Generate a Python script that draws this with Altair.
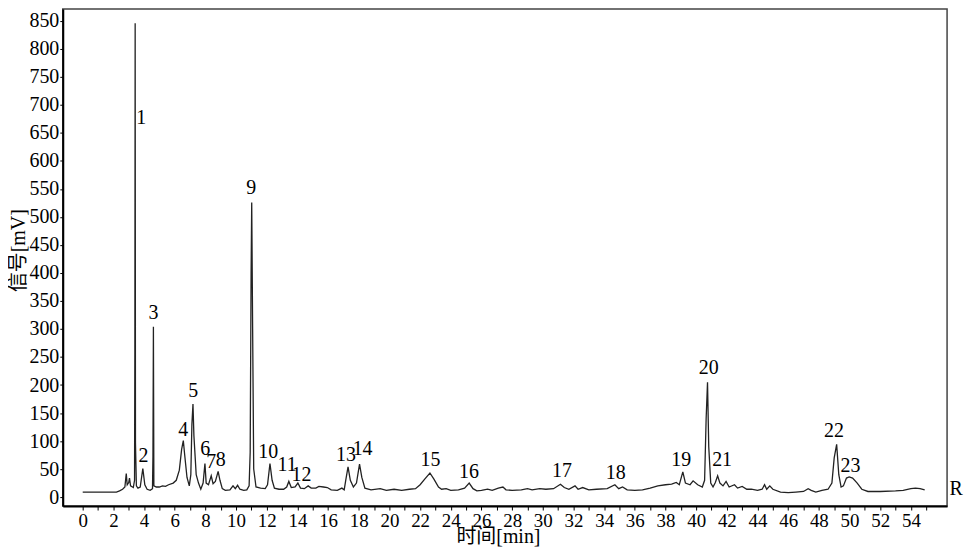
import altair as alt
import pandas as pd

# ---- chromatogram trace (time in min, signal in mV) ----
time_min = [
    0.0, 2.2, 2.4, 2.6, 2.75, 2.84, 2.9, 3.0, 3.05, 3.12, 3.3, 3.38, 3.40, 3.42, 3.44, 3.5,
    3.6, 3.75, 3.92, 4.05, 4.2, 4.4, 4.55, 4.58, 4.61, 4.64, 4.8, 5.0, 5.2, 5.4, 5.6, 5.9,
    6.1, 6.3, 6.45, 6.56, 6.65, 6.8, 6.95, 7.05, 7.12, 7.19, 7.25, 7.4, 7.55, 7.7, 7.85,
    7.97, 8.05, 8.2, 8.38, 8.5, 8.65, 8.83, 8.95, 9.1, 9.3, 9.6, 9.8, 9.95, 10.1, 10.25,
    10.5, 10.7, 10.85, 10.92, 10.98, 11.02, 11.08, 11.15, 11.3, 11.6, 11.9, 12.05, 12.21,
    12.35, 12.5, 12.8, 13.1, 13.3, 13.44, 13.6, 13.85, 14.03, 14.2, 14.45, 14.7, 14.9,
    15.2, 15.4, 15.7, 15.95, 16.2, 16.6, 16.9, 17.05, 17.15, 17.3, 17.45, 17.65, 17.85,
    18.05, 18.2, 18.4, 18.8, 19.4, 19.8, 20.3, 20.8, 21.3, 21.7, 22.0, 22.3, 22.64, 22.9,
    23.2, 23.4, 23.7, 24.0, 24.5, 24.9, 25.2, 25.45, 25.7, 26.0, 26.4, 26.7, 27.1, 27.4,
    27.6, 28.0, 28.6, 29.0, 29.3, 29.8, 30.2, 30.7, 31.15, 31.4, 31.7, 32.1, 32.3, 32.6,
    33.0, 33.5, 34.2, 34.7, 34.95, 35.2, 35.5, 36.0, 36.5, 37.0, 37.5, 38.0, 38.4, 38.7,
    38.9, 39.13, 39.3, 39.6, 39.8, 40.1, 40.4, 40.55, 40.65, 40.74, 40.82, 40.95, 41.1,
    41.25, 41.4, 41.55, 41.75, 41.95, 42.15, 42.5, 42.7, 43.0, 43.3, 43.6, 44.0, 44.3,
    44.46, 44.6, 44.8, 45.0, 45.5, 46.0, 46.5, 47.0, 47.3, 47.5, 47.8, 48.2, 48.6, 48.85,
    49.0, 49.16, 49.3, 49.45, 49.6, 49.8, 49.98, 50.2, 50.5, 50.8, 51.2, 52.0, 53.0, 53.5,
    54.0, 54.3, 54.6, 54.9,
]
signal_mv = [
    9, 9, 11, 14, 18, 42, 22, 26, 34, 20, 17, 30, 257, 846, 97, 20,
    16, 18, 51, 22, 14, 12, 15, 73, 304, 20, 18, 18, 20, 19, 22, 25,
    30, 48, 85, 101, 75, 35, 20, 40, 130, 166, 110, 40, 25, 14, 25,
    60, 25, 22, 38, 24, 28, 46, 30, 15, 12, 13, 20, 15, 21, 14,
    12, 13, 20, 80, 400, 526, 300, 50, 18, 16, 15, 22, 60,
    30, 16, 14, 14, 18, 28, 17, 18, 25, 16, 15, 20, 16,
    16, 19, 18, 17, 13, 12, 16, 13, 30, 54, 30, 18, 25,
    59, 35, 16, 13, 15, 12, 14, 12, 14, 15, 22, 32, 43, 32,
    18, 14, 15, 12, 13, 16, 25, 15, 11, 12, 14, 12, 16, 18,
    13, 12, 13, 15, 13, 15, 14, 15, 23, 17, 14, 20, 14, 17,
    13, 14, 15, 22, 15, 18, 13, 12, 13, 16, 20, 22, 23, 26,
    22, 45, 25, 22, 29, 22, 18, 30, 140, 205, 90, 25, 18,
    26, 38, 25, 20, 28, 18, 22, 16, 19, 14, 14, 12, 14,
    22, 14, 20, 14, 9, 8, 9, 10, 15, 12, 9, 12, 14, 25,
    70, 94, 40, 18, 20, 34, 36, 34, 25, 14, 10, 10, 11, 12,
    15, 16, 15, 13,
]

# ---- peak numbers and where they are written ----
peak_names = [str(i) for i in range(1, 24)]
peak_t = [3.81, 3.96, 4.61, 6.56, 7.21, 7.99, 8.38, 9.0, 10.99, 12.1, 13.33, 14.26,
          17.16, 18.25, 22.68, 25.19, 31.25, 34.76, 39.03, 40.82, 41.69, 48.98, 50.06]
peak_v = [677, 73, 328, 119, 189, 85, 62, 66, 551, 81, 57, 39,
          75, 85, 67, 44, 47, 43, 66, 230, 66, 118, 56]

side_names = ["R"]
side_t = [56.95]
side_v = [15]

x_ticks = [i * 0.5 for i in range(111)]
y_ticks = list(range(0, 851, 50))

trace = pd.DataFrame({"t": time_min, "v": signal_mv})
labels = pd.DataFrame({"name": peak_names, "t": peak_t, "v": peak_v})
side = pd.DataFrame({"name": side_names, "t": side_t, "v": side_v})

FONT = "Liberation Serif"
TITLE_FONT = "Liberation Serif, Noto Sans CJK SC"

x_scale = alt.Scale(domain=[-1.3, 56.36], nice=False, zero=False)
y_scale = alt.Scale(domain=[-16, 871], nice=False, zero=False)

x_axis = alt.Axis(
    title="时间[min]", values=x_ticks, format="d",
    labelExpr="datum.value % 2 == 0 ? datum.label : ''",
    grid=False, domainColor="black", domainWidth=2,
    tickColor="black", tickSize=4, tickWidth=1,
    labelFont=FONT, labelFontSize=19, labelColor="black", labelPadding=2,
    labelOverlap=False, labelFlush=False, labelBound=False,
    titleFont=TITLE_FONT, titleFontSize=20, titleFontWeight="normal", titleColor="black",
    titleX=437, titleY=37, titleAlign="center", titleBaseline="alphabetic",
)
y_axis = alt.Axis(
    title="信号[mV]", values=y_ticks, format="d",
    grid=False, domainColor="black", domainWidth=2,
    tickColor="black", tickSize=3, tickWidth=1,
    labelFont=FONT, labelFontSize=20, labelColor="black", labelPadding=1,
    labelOverlap=False, labelFlush=False, labelBound=False,
    titleFont=TITLE_FONT, titleFontSize=20, titleFontWeight="normal", titleColor="black",
    titleX=-44, titleY=242, titleAlign="center", titleBaseline="middle", titleAngle=270,
)

X = alt.X("t:Q", scale=x_scale, axis=x_axis)
Y = alt.Y("v:Q", scale=y_scale, axis=y_axis)

line = alt.Chart(trace).mark_line(color="#222222", strokeWidth=1.3).encode(x=X, y=Y)

peak_text = alt.Chart(labels).mark_text(
    font=FONT, fontSize=20, color="black", align="center", baseline="middle"
).encode(x=X, y=Y, text="name:N")

side_text = alt.Chart(side).mark_text(
    font=FONT, fontSize=20, color="black", align="center", baseline="middle"
).encode(x=X, y=Y, text="name:N")

chart = alt.layer(line, peak_text, side_text).properties(
    width=888, height=499,
    autosize=alt.AutoSizeParams(type="none"),
    padding={"left": 55, "top": 0, "right": 18, "bottom": 40},
).configure_view(
    stroke="#444444", strokeWidth=1.5
).configure_axis(
    labelOverlap=False, labelFont=FONT
)

chart.save("out.html", embed_options={"renderer": "svg", "actions": False})
